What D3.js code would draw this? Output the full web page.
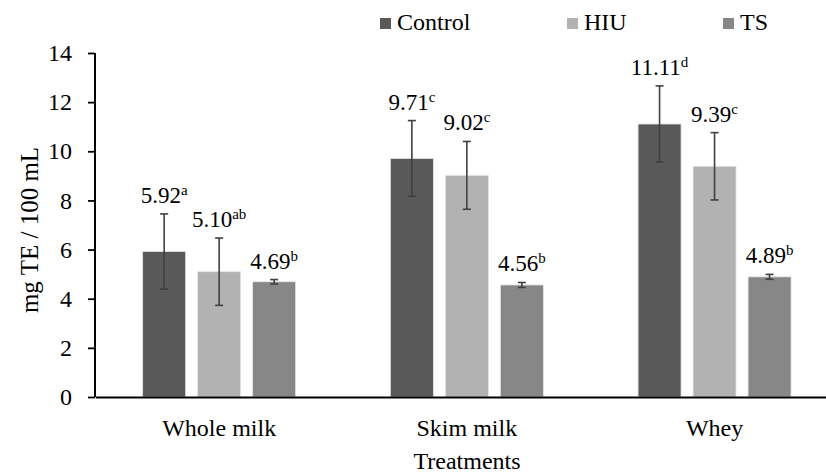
<!DOCTYPE html>
<html>
<head>
<meta charset="utf-8">
<script src="https://cdn.jsdelivr.net/npm/d3@7"></script>
<style>
  html, body { margin: 0; padding: 0; background: #fff; }
  svg { display: block; }
  svg text { font-family: "Liberation Serif", "Times New Roman", serif !important; fill: #000; }
</style>
</head>
<body>
<svg id="chart" width="826" height="475"></svg>
<script>
// Antioxidant capacity by treatment (mg TE / 100 mL)
const categories = ["Whole milk", "Skim milk", "Whey"];
const seriesNames = ["Control", "HIU", "TS"];
const seriesColors = ["#595959", "#b2b2b2", "#878787"];
const controlValues = [5.92, 9.71, 11.11];
const hiuValues = [5.10, 9.02, 9.39];
const tsValues = [4.69, 4.56, 4.89];
const controlErrors = [1.53, 1.54, 1.55];
const hiuErrors = [1.37, 1.38, 1.37];
const tsErrors = [0.09, 0.10, 0.10];
const controlLetters = ["a", "c", "d"];
const hiuLetters = ["ab", "c", "c"];
const tsLetters = ["b", "b", "b"];
const yTicks = [0, 2, 4, 6, 8, 10, 12, 14];

const seriesValues = [controlValues, hiuValues, tsValues];
const seriesErrors = [controlErrors, hiuErrors, tsErrors];
const seriesLetters = [controlLetters, hiuLetters, tsLetters];

const svg = d3.select("#chart");

const x0 = d3.scaleBand().domain(categories).range([95.3, 838.4]).padding(0);
const groupWidth = 153;
const x1 = d3.scaleBand().domain(seriesNames)
  .range([(x0.bandwidth() - groupWidth) / 2, (x0.bandwidth() + groupWidth) / 2])
  .paddingInner(0.218).paddingOuter(0);
const y = d3.scaleLinear().domain([0, 14]).range([397, 53]);
const color = d3.scaleOrdinal().domain(seriesNames).range(seriesColors);

// rows: one entry per bar
const rows = [];
categories.forEach((c, i) => {
  seriesNames.forEach((s, j) => {
    rows.push({ cat: c, series: s, value: seriesValues[j][i], err: seriesErrors[j][i], letter: seriesLetters[j][i] });
  });
});

// bars
svg.append("g").selectAll("rect").data(rows).join("rect")
  .attr("x", d => x0(d.cat) + x1(d.series))
  .attr("y", d => y(d.value))
  .attr("width", x1.bandwidth())
  .attr("height", d => y(0) - y(d.value))
  .attr("fill", d => color(d.series))
  .attr("stroke", "#e6e6e6")
  .attr("stroke-width", 0.8);

// error bars
const eg = svg.append("g").attr("stroke", "#404040").attr("stroke-width", 1.6);
rows.forEach(d => {
  const cx = x0(d.cat) + x1(d.series) + x1.bandwidth() / 2;
  const yt = y(d.value + d.err), yb = y(d.value - d.err);
  eg.append("line").attr("x1", cx).attr("x2", cx).attr("y1", yt).attr("y2", yb);
  eg.append("line").attr("x1", cx - 4).attr("x2", cx + 4).attr("y1", yt).attr("y2", yt);
  eg.append("line").attr("x1", cx - 4).attr("x2", cx + 4).attr("y1", yb).attr("y2", yb);
});

// value labels with significance letters
rows.forEach(d => {
  const cx = x0(d.cat) + x1(d.series) + x1.bandwidth() / 2;
  const t = svg.append("text")
    .attr("x", cx)
    .attr("y", y(d.value + d.err) - 11)
    .attr("text-anchor", "middle")
    .attr("font-size", 23);
  t.append("tspan").text(d.value.toFixed(2));
  t.append("tspan").attr("font-size", 15).attr("dy", -8).text(d.letter);
});

// y axis
const yAxis = svg.append("g").attr("transform", "translate(95,0)")
  .call(d3.axisLeft(y).tickValues(yTicks).tickSize(7).tickPadding(16).tickFormat(d3.format("d")));
yAxis.select(".domain").attr("stroke", "#000").attr("stroke-width", 2).attr("d", "M0,53V397");
yAxis.selectAll(".tick line").attr("stroke", "#000").attr("stroke-width", 1.8);
yAxis.selectAll(".tick text").attr("font-size", 24);

// x axis
const xAxis = svg.append("g").attr("transform", "translate(0,397)")
  .call(d3.axisBottom(x0).tickSize(0).tickPadding(22));
xAxis.select(".domain").attr("stroke", "#000").attr("stroke-width", 2);
xAxis.selectAll(".tick text").attr("font-size", 24);

// axis titles
svg.append("text")
  .attr("transform", "translate(38,230) rotate(-90)")
  .attr("text-anchor", "middle")
  .attr("font-size", 25)
  .text("mg TE / 100 mL");
svg.append("text")
  .attr("x", 467).attr("y", 469)
  .attr("text-anchor", "middle")
  .attr("font-size", 24)
  .text("Treatments");

// legend
const legendX = [380, 567, 723];
const lg = svg.append("g");
seriesNames.forEach((s, i) => {
  lg.append("rect").attr("x", legendX[i]).attr("y", 18).attr("width", 11).attr("height", 11).attr("fill", color(s));
  lg.append("text").attr("x", legendX[i] + 17).attr("y", 29.5).attr("font-size", 24).text(s);
});
</script>
</body>
</html>
